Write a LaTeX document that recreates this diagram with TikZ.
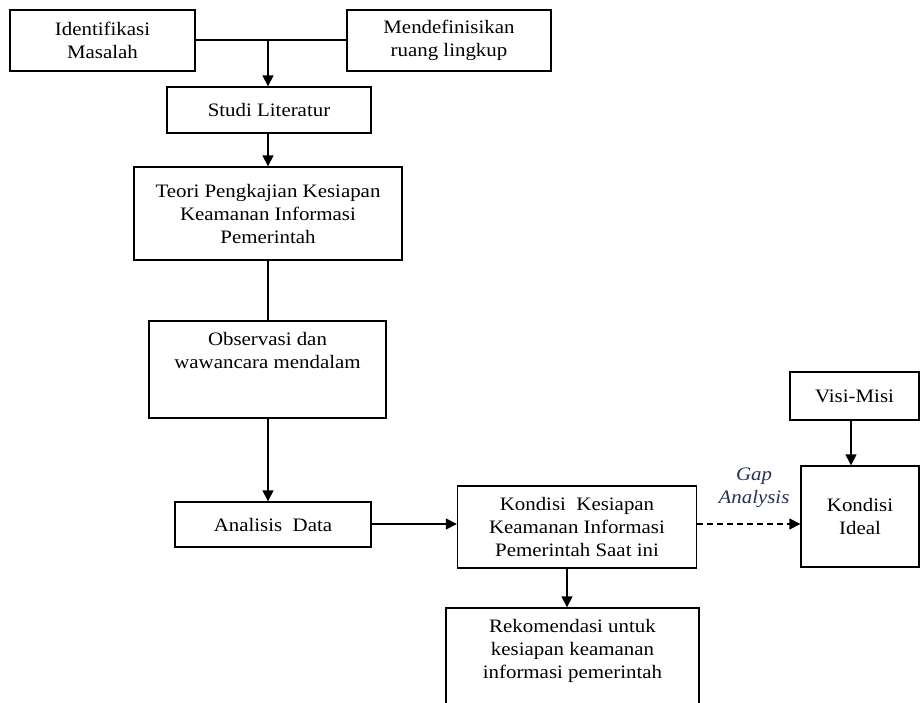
\documentclass[tikz,border=0pt]{standalone}
\usepackage{fontspec}
\setmainfont{Liberation Serif}[FakeStretch=1.1]
\usetikzlibrary{arrows.meta}
\definecolor{gapcol}{RGB}{40,48,85}
\tikzset{
  box/.style={draw, line width=1.4pt, inner sep=0pt, align=center,
    font=\fontsize{19}{23}\selectfont},
  conn/.style={line width=1.5pt},
  arr/.style={line width=1.5pt, -{Triangle[length=11pt,width=11pt]}},
  toplabel/.style={anchor=north, align=center, inner sep=0pt,
    font=\fontsize{19}{23}\selectfont}
}
\begin{document}
\begin{tikzpicture}[x=1pt,y=-1pt]
\useasboundingbox (0,0) rectangle (920,702);
\clip (0,0) rectangle (920,702);
\fill[white] (0,0) rectangle (920,702);
% boxes
\node[box, minimum width=185pt, minimum height=61pt] (idm) at (102.5,40.5) {Identifikasi\\Masalah};
\node[box, minimum width=204pt, minimum height=61pt] (mdf) at (449,40.5) {Mendefinisikan\\ruang lingkup};
\node[box, minimum width=204pt, minimum height=46pt] (stl) at (269,110) {Studi Literatur};
\node[box, minimum width=268pt, minimum height=93pt] (teo) at (268,213.5) {Teori Pengkajian Kesiapan\\Keamanan Informasi\\Pemerintah};
\node[box, minimum width=237pt, minimum height=97pt] (obs) at (267.5,369.5) {};
\node[toplabel] (obst) at ([yshift=-12pt]obs.north) {Observasi dan\\wawancara mendalam};
\node[box, minimum width=196pt, minimum height=45pt] (ana) at (273,524.5) {Analisis\ \ Data};
\node[box, minimum width=239pt, minimum height=82pt] (kon) at (577,527) {Kondisi\ \ Kesiapan\\Keamanan Informasi\\Pemerintah Saat ini};
\node[box, minimum width=253pt, minimum height=110pt] (rek) at (572.5,663) {};
\node[toplabel] (rekt) at ([yshift=-12pt]rek.north) {Rekomendasi untuk\\kesiapan keamanan\\informasi pemerintah};
\node[box, minimum width=129pt, minimum height=48pt] (vis) at (854.5,396) {Visi-Misi};
\node[box, minimum width=118pt, minimum height=101pt] (ide) at (860,516.5) {Kondisi\\Ideal};
\node[align=center, inner sep=0pt, text=gapcol,
  font=\fontsize{19}{23}\selectfont\itshape] (gap) at (754,488) {Gap\\Analysis};
% connectors
\coordinate (j) at (268,40);
\draw[conn] (idm.east |- j) -- (mdf.west |- j);
\draw[arr] (j) -- (j |- stl.north);
\draw[arr] (stl.south -| j) -- (teo.north -| j);
\draw[conn] (teo.south -| j) -- (obs.north -| j);
\draw[arr] (obs.south -| j) -- (ana.north -| j);
\coordinate (h) at (0,524);
\draw[arr] (ana.east |- h) -- (kon.west |- h);
\coordinate (k) at (567,0);
\draw[arr] (kon.south -| k) -- (rek.north -| k);
\draw[arr, dash pattern=on 6pt off 4pt] (kon.east |- h) -- (ide.west |- h);
\coordinate (v) at (851,0);
\draw[arr] (vis.south -| v) -- (ide.north -| v);
\end{tikzpicture}
\end{document}
